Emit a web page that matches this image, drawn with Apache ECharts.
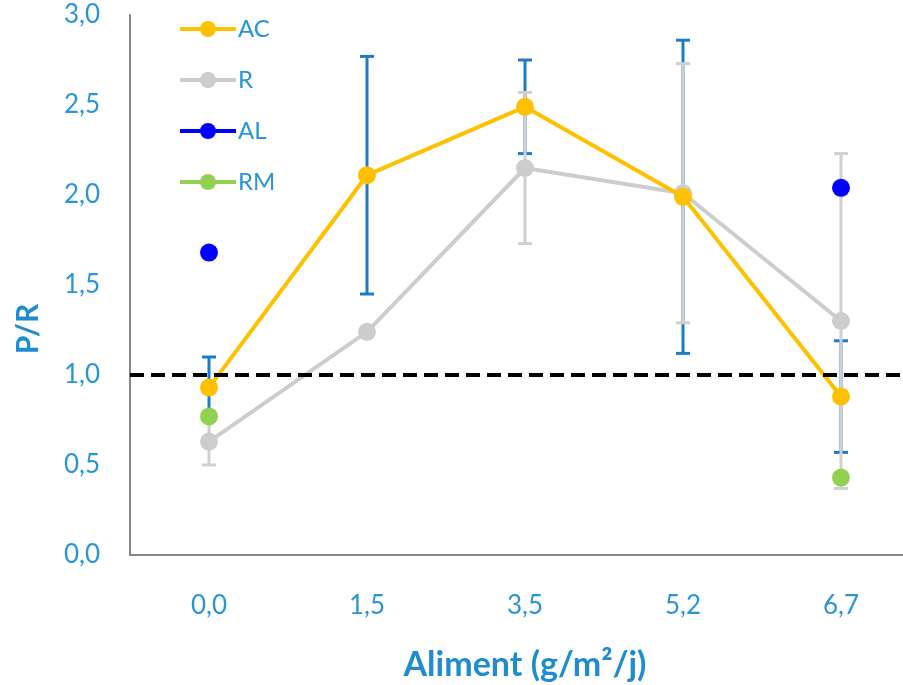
<!DOCTYPE html>
<html>
<head>
<meta charset="utf-8">
<script src="https://cdn.jsdelivr.net/npm/echarts@6/dist/echarts.min.js"></script>
<style>
  html, body { margin: 0; padding: 0; background: #ffffff; }
  #chart { width: 903px; height: 685px; }
</style>
</head>
<body>
<div id="chart"></div>
<script>
// Food supply levels (g/m²/j)
const categories = ['0,0', '1,5', '3,5', '5,2', '6,7'];

// P/R ratio per treatment
const acValues = [0.93, 2.11, 2.49, 1.99, 0.88];
const rValues  = [0.63, 1.24, 2.15, 2.01, 1.30];
const alValues = [1.68, null, null, null, 2.04];
const rmValues = [0.77, null, null, null, 0.43];

// Standard deviations (error bars)
const acErrors = [0.17, 0.66, 0.26, 0.87, 0.31];
const rErrors  = [0.13, null, 0.42, 0.72, 0.93];

// Reference line P/R = 1
const balanceLevel = 1.0;

const yTicks = [0, 0.5, 1, 1.5, 2, 2.5, 3];

const labelBlue = '#2B95D3';
const titleBlue = '#1E8CCD';
const fontFamily = 'Lato, "Open Sans", sans-serif';

function errorData(values, errors) {
  const out = [];
  values.forEach(function (v, i) {
    if (v != null && errors[i] != null) out.push([i, v - errors[i], v + errors[i]]);
  });
  return out;
}

function errorSeries(name, values, errors, color, width, z) {
  return {
    type: 'custom',
    name: name,
    z: z,
    silent: true,
    data: errorData(values, errors),
    encode: { x: 0, y: [1, 2] },
    renderItem: function (params, api) {
      const x = api.value(0);
      const lo = api.coord([x, api.value(1)]);
      const hi = api.coord([x, api.value(2)]);
      const half = 7;
      const style = { stroke: color, lineWidth: width, fill: null };
      return {
        type: 'group',
        children: [
          { type: 'line', shape: { x1: lo[0], y1: lo[1], x2: hi[0], y2: hi[1] }, style: style },
          { type: 'line', shape: { x1: hi[0] - half, y1: hi[1], x2: hi[0] + half, y2: hi[1] }, style: style },
          { type: 'line', shape: { x1: lo[0] - half, y1: lo[1], x2: lo[0] + half, y2: lo[1] }, style: style }
        ]
      };
    }
  };
}

function lineSeries(name, values, color, z) {
  return {
    type: 'line',
    name: name,
    data: values,
    z: z,
    symbol: 'circle',
    symbolSize: 18,
    connectNulls: false,
    itemStyle: { color: color },
    lineStyle: { color: color, width: 4 },
    emphasis: { disabled: true }
  };
}

const chart = echarts.init(document.getElementById('chart'), null, { renderer: 'canvas' });

const lineAC = lineSeries('AC', acValues, '#FFC000', 6);
lineAC.markLine = {
  silent: true,
  symbol: 'none',
  label: { show: false },
  lineStyle: { color: '#000000', width: 4, type: [14, 7] },
  data: [{ yAxis: balanceLevel }],
  z: 10
};

chart.setOption({
  animation: false,
  backgroundColor: '#ffffff',
  grid: {
    left: 130, right: -17, top: 15, bottom: 130,
    containLabel: false,
    outerBoundsMode: 'none'
  },
  legend: {
    orient: 'vertical',
    left: 173,
    top: 12,
    itemWidth: 56,
    itemHeight: 20,
    itemGap: 27,
    data: ['AC', 'R', 'AL', 'RM'],
    lineStyle: { width: 4 },
    textStyle: { color: labelBlue, fontSize: 24, fontFamily: fontFamily, padding: [0, 0, 0, -3] }
  },
  xAxis: {
    type: 'category',
    data: categories,
    boundaryGap: true,
    name: 'Aliment (g/m²/j)',
    nameLocation: 'middle',
    nameGap: 93,
    nameTextStyle: { color: titleBlue, fontSize: 34, fontWeight: 'bold', fontFamily: fontFamily },
    axisLine: { show: true, lineStyle: { color: '#878787', width: 2 } },
    axisTick: { show: false },
    axisLabel: { color: labelBlue, fontSize: 26, fontFamily: fontFamily, margin: 38 },
    splitLine: { show: false }
  },
  yAxis: {
    type: 'value',
    min: yTicks[0],
    max: yTicks[yTicks.length - 1],
    interval: 0.5,
    name: 'P/R',
    nameLocation: 'middle',
    nameGap: 87,
    nameRotate: 90,
    nameTextStyle: {
      color: titleBlue, fontSize: 30, fontWeight: 'bold', fontFamily: fontFamily,
      padding: [0, 88, 0, 0]
    },
    axisLine: { show: true, lineStyle: { color: '#878787', width: 2 } },
    axisTick: { show: false },
    splitLine: { show: false },
    axisLabel: {
      color: labelBlue,
      fontSize: 26,
      fontFamily: fontFamily,
      margin: 30,
      formatter: function (v) { return v.toFixed(1).replace('.', ','); }
    }
  },
  series: [
    errorSeries('AC-err', acValues, acErrors, '#1F7BC6', 3, 2),
    errorSeries('R-err', rValues, rErrors, '#D0D0D0', 3, 3),
    lineSeries('R', rValues, '#CDCDCD', 5),
    lineAC,
    lineSeries('AL', alValues, '#0000FF', 7),
    lineSeries('RM', rmValues, '#92D050', 8)
  ]
});
</script>
</body>
</html>
